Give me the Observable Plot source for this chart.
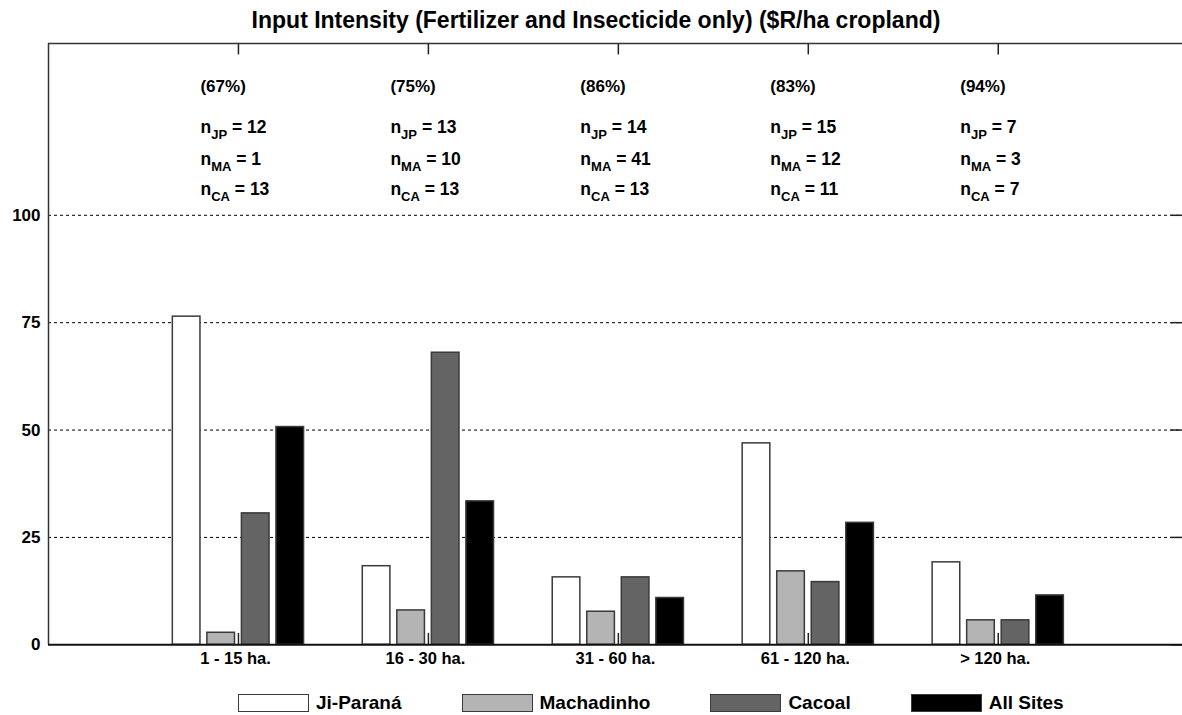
<!DOCTYPE html>
<html>
<head>
<meta charset="utf-8">
<script src="https://cdn.jsdelivr.net/npm/d3@7"></script>
<script src="https://cdn.jsdelivr.net/npm/@observablehq/plot@0.6"></script>
<style>
  html, body { margin: 0; padding: 0; background: #fff; }
  body { width: 1182px; height: 715px; overflow: hidden; font-family: "Liberation Sans", Arial, sans-serif; color: #000; }
  #title { height: 36px; line-height: 40px; text-align: center; font-size: 23px; font-weight: bold; padding-left: 10px; box-sizing: border-box; white-space: nowrap; }
  #legend { display: flex; align-items: center; padding-left: 238px; margin-top: 12px; gap: 60px; font-size: 19px; font-weight: bold; }
  .item { display: flex; align-items: center; }
  .sw { width: 69px; height: 16px; border: 1.5px solid #3a3a3a; margin-right: 7px; }
</style>
</head>
<body>
<div id="title">Input Intensity (Fertilizer and Insecticide only) ($R/ha cropland)</div>
<div id="chart"></div>
<div id="legend"></div>
<script>
// ---- data ----
const categories = ["1 - 15 ha.", "16 - 30 ha.", "31 - 60 ha.", "61 - 120 ha.", "> 120 ha."];
const seriesNames = ["Ji-Paraná", "Machadinho", "Cacoal", "All Sites"];
const jiParana   = [76.4, 18.3, 15.7, 46.9, 19.2];
const machadinho = [2.8, 8.0, 7.7, 17.1, 5.7];
const cacoal     = [30.6, 68.0, 15.7, 14.6, 5.7];
const allSites   = [50.7, 33.4, 10.9, 28.4, 11.5];
const pctLabels  = ["(67%)", "(75%)", "(86%)", "(83%)", "(94%)"];
const nJP = [12, 13, 14, 15, 7];
const nMA = [1, 10, 41, 12, 3];
const nCA = [13, 13, 13, 11, 7];
const yTicks = [0, 25, 50, 75, 100];
const seriesColors = ["#ffffff", "#b4b4b4", "#646464", "#000000"];

// ---- layout constants ----
const groupWidth = 4 / 5.5;          // grouped-bar layout
const barStep = groupWidth / 4;
const barWidth = barStep * 0.8;
const xMax = 5.97, yMax = 140;
const tickLenX = 11.4 / 190, tickLenY = 11.4 / 4.296;

const seriesValues = [jiParana, machadinho, cacoal, allSites];
const rows = [];
categories.forEach((c, i) => {
  seriesValues.forEach((vals, j) => {
    const center = i + 1 + (j - 1.5) * barStep;
    rows.push({cat: c, series: seriesNames[j], value: vals[i], x1: center - barWidth / 2, x2: center + barWidth / 2, color: seriesColors[j]});
  });
});
const groups = categories.map((c, i) => ({cat: c, pos: i + 1, pct: pctLabels[i], jp: nJP[i], ma: nMA[i], ca: nCA[i]}));

const font = "'Liberation Sans', Arial, sans-serif";

const chart = Plot.plot({
  width: 1182,
  height: 644,
  marginLeft: 48,
  marginRight: 0,
  marginTop: 7,
  marginBottom: 35.7,
  x: {domain: [0, xMax], axis: null},
  y: {domain: [0, yMax], axis: null},
  style: {fontFamily: font, fontSize: "17px", fontWeight: "bold", color: "#000", background: "#fff", overflow: "visible"},
  marks: [
    Plot.ruleY(yTicks.filter(d => d > 0), {stroke: "#000", strokeWidth: 1, strokeDasharray: "3,3"}),
    Plot.ruleY(yTicks, {x1: xMax - tickLenX, x2: xMax, stroke: "#222", strokeWidth: 1.5}),
    Plot.ruleX(groups, {x: "pos", y1: 0, y2: tickLenY, stroke: "#222", strokeWidth: 1.5}),
    Plot.ruleX(groups, {x: "pos", y1: yMax - tickLenY, y2: yMax, stroke: "#222", strokeWidth: 1.5}),
    Plot.rectY(rows, {x1: "x1", x2: "x2", y: "value", fill: "color", stroke: "#3a3a3a", strokeWidth: 1.5}),
    Plot.ruleX([0], {stroke: "#333", strokeWidth: 1.5}),
    Plot.ruleY([yMax], {stroke: "#333", strokeWidth: 1.5}),
    Plot.ruleY([0], {stroke: "#111", strokeWidth: 2}),
    Plot.text(yTicks, {x: 0, y: d => d, text: d => String(d), textAnchor: "end", dx: -8, fontSize: 17}),
    Plot.text(groups, {x: "pos", y: 0, text: "cat", lineAnchor: "top", dy: 7, dx: -3, fontSize: 16.5}),
    Plot.text(groups, {x: d => d.pos - 0.2, y: 130, text: "pct", textAnchor: "start", fontSize: 17}),
    Plot.text(groups, {x: d => d.pos - 0.2, y: 120.4, text: d => `n_JP = ${d.jp}`, textAnchor: "start", fontSize: 17.5}),
    Plot.text(groups, {x: d => d.pos - 0.2, y: 113.1, text: d => `n_MA = ${d.ma}`, textAnchor: "start", fontSize: 17.5}),
    Plot.text(groups, {x: d => d.pos - 0.2, y: 106.0, text: d => `n_CA = ${d.ca}`, textAnchor: "start", fontSize: 17.5})
  ]
});
document.getElementById("chart").appendChild(chart);

// subscripts
d3.select(chart).selectAll("text").each(function() {
  const t = this.textContent;
  const m = /^n_([A-Z]+)(.*)$/.exec(t);
  if (!m) return;
  const sel = d3.select(this);
  sel.text(null);
  sel.append("tspan").text("n");
  sel.append("tspan").attr("dy", 6).attr("font-size", 13).text(m[1]);
  sel.append("tspan").attr("dy", -6).text(m[2]);
});

// legend
const legend = d3.select("#legend");
seriesNames.forEach((name, j) => {
  const it = legend.append("div").attr("class", "item");
  it.append("div").attr("class", "sw").style("background", seriesColors[j]);
  it.append("span").text(name);
});
</script>
</body>
</html>
